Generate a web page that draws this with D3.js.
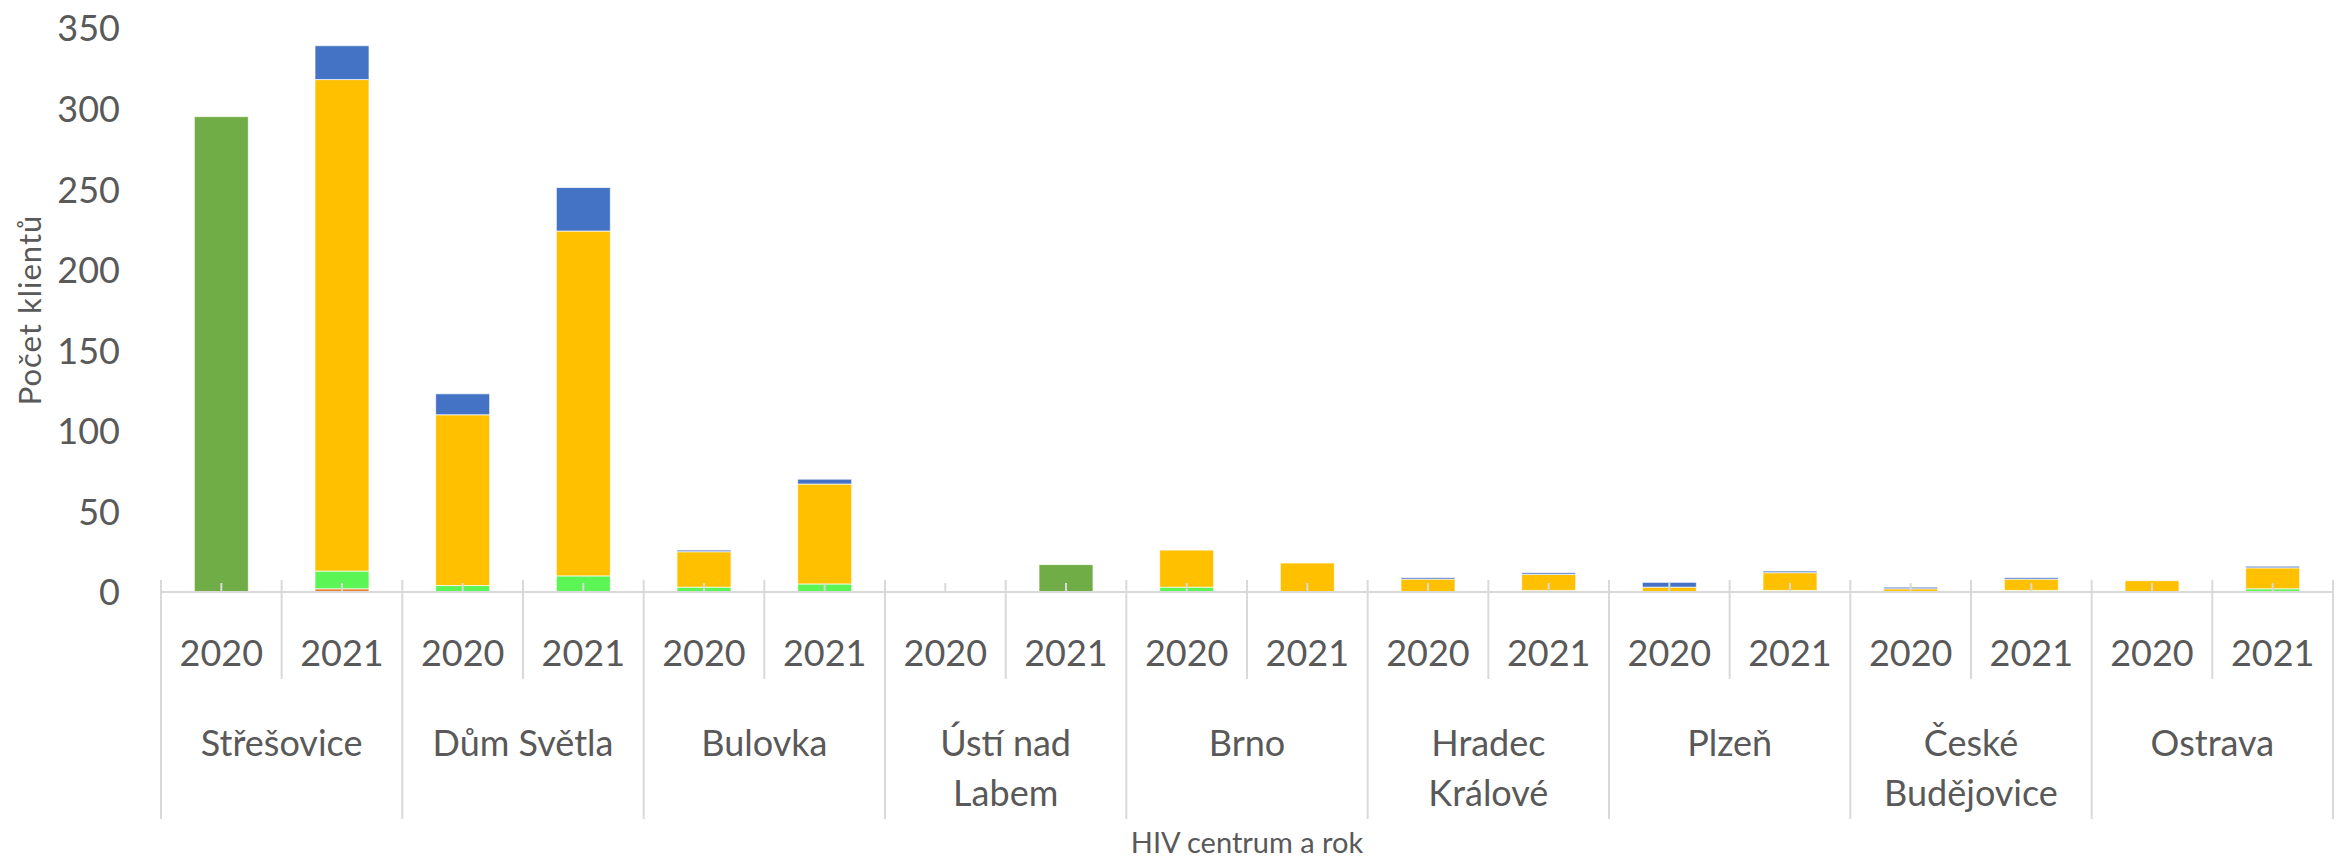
<!DOCTYPE html>
<html>
<head>
<meta charset="utf-8">
<script src="https://cdn.jsdelivr.net/npm/d3@7"></script>
<style>
  body { margin: 0; background: #fff; }
  text { font-family: Lato, "Open Sans", sans-serif; fill: #595959; }
</style>
</head>
<body>
<div id="chart"></div>
<script>
// HIV centra, počet klientů podle roku
const centers = ['Střešovice', 'Dům Světla', 'Bulovka', 'Ústí nad Labem', 'Brno',
   'Hradec Králové', 'Plzeň', 'České Budějovice', 'Ostrava'];
const years = ['2020', '2021'];
const yTicks = [0, 50, 100, 150, 200, 250, 300, 350];

// one value per center x year (2020, 2021)
const seriesDarkGreen  = [295, 0,   0, 0,    0, 0,   0, 17,  0, 0,   0, 0,   0, 0,   0, 0,   0, 0];
const seriesOrange     = [0, 2,     0, 0,    0, 0,   0, 0,   0, 0,   0, 1,   0, 0,   0, 0,   0, 0];
const seriesLightGreen = [0, 11,    4, 10,   3, 5,   0, 0,   3, 0,   0, 0,   0, 1,   0, 1,   0, 2];
const seriesYellow     = [0, 305,   106, 214, 22, 62, 0, 0,  23, 18,  8, 10,  3, 11,  2, 7,   7, 13];
const seriesBlue       = [0, 21,    13, 27,  1, 3,   0, 0,   0, 0,   1, 1,   3, 1,   1, 1,   0, 1];

const keys = ['darkGreen', 'orange', 'lightGreen', 'yellow', 'blue'];
const colors = { darkGreen: '#70AD47', orange: '#ED7D31', lightGreen: '#5CF556', yellow: '#FFC000', blue: '#4472C4' };

const W = 2336, H = 859;
const margin = { left: 161, right: 3, top: 28, bottom: 267 };
const plotW = W - margin.left - margin.right;
const plotH = H - margin.top - margin.bottom;

const rows = [];
centers.forEach((c, ci) => {
   years.forEach((yr, yi) => {
      const i = ci * 2 + yi;
      rows.push({
         id: c + '|' + yr, center: c, year: yr,
         darkGreen: seriesDarkGreen[i], orange: seriesOrange[i], lightGreen: seriesLightGreen[i],
         yellow: seriesYellow[i], blue: seriesBlue[i]
      });
   });
});

const svg = d3.select('#chart').append('svg')
   .attr('width', W)
   .attr('height', H);

const g = svg.append('g')
   .attr('transform', `translate(${margin.left}, ${margin.top})`);

const x = d3.scaleBand()
   .domain(rows.map(d => d.id))
   .range([0, plotW])
   .paddingInner(0.5525)
   .paddingOuter(0.5525 / 2);

const y = d3.scaleLinear()
   .domain([0, 350])
   .range([plotH, 0]);

const step = x.step();

// y axis
const yAxis = g.append('g')
   .call(d3.axisLeft(y).tickValues(yTicks).tickSize(0).tickPadding(41));
yAxis.select('.domain').remove();
yAxis.selectAll('text')
   .attr('font-size', '36px')
   .attr('dy', '0.36em')
   .style('font-family', 'Lato, sans-serif')
   .attr('fill', '#595959');

// bars
const stacked = d3.stack().keys(keys)(rows);

g.selectAll('g.layer')
   .data(stacked)
   .enter()
   .append('g')
      .attr('class', 'layer')
      .attr('fill', d => colors[d.key])
   .selectAll('rect')
   .data(d => d.filter(p => p[1] - p[0] > 0))
   .enter()
   .append('rect')
      .attr('x', d => x(d.data.id))
      .attr('width', x.bandwidth())
      .attr('y', d => y(d[1]))
      .attr('height', d => y(d[0]) - y(d[1]))
      .attr('stroke', '#fff')
      .attr('stroke-opacity', 0.7)
      .attr('stroke-width', 1);

// category axis (two levels)
const axisColor = '#D9D9D9';
const axisG = g.append('g');

axisG.append('line')
   .attr('x1', 0).attr('x2', plotW)
   .attr('y1', plotH).attr('y2', plotH)
   .attr('stroke', axisColor).attr('stroke-width', 2);

d3.range(rows.length + 1).forEach(i => {
   axisG.append('line')
      .attr('x1', i * step).attr('x2', i * step)
      .attr('y1', plotH - 12)
      .attr('y2', i % 2 === 0 ? plotH + 227 : plotH + 87)
      .attr('stroke', axisColor).attr('stroke-width', 2);
});

axisG.selectAll('line.tick')
   .data(rows)
   .enter()
   .append('line')
      .attr('class', 'tick')
      .attr('x1', d => x(d.id) + x.bandwidth() / 2)
      .attr('x2', d => x(d.id) + x.bandwidth() / 2)
      .attr('y1', plotH - 9).attr('y2', plotH)
      .attr('stroke', axisColor).attr('stroke-width', 2);

axisG.selectAll('text.year')
   .data(rows)
   .enter()
   .append('text')
      .attr('class', 'year')
      .attr('x', d => x(d.id) + x.bandwidth() / 2)
      .attr('y', plotH + 61)
      .attr('dy', '0.36em')
      .attr('text-anchor', 'middle')
      .attr('font-size', '36px')
      .text(d => d.year);

const splitLabel = s => {
   if (s.length <= 10) return [s];
   const k = s.lastIndexOf(' ');
   return [s.slice(0, k), s.slice(k + 1)];
};

const centerText = axisG.selectAll('text.center')
   .data(centers)
   .enter()
   .append('text')
      .attr('class', 'center')
      .attr('text-anchor', 'middle')
      .attr('font-size', '36px')
      .attr('transform', (d, i) => `translate(${(i + 1) * 2 * step - step}, ${plotH + 151})`);

centerText.selectAll('tspan')
   .data(d => splitLabel(d))
   .enter()
   .append('tspan')
      .attr('x', 0)
      .attr('y', (d, i) => i * 50)
      .attr('dy', '0.36em')
      .text(d => d);

// axis titles
svg.append('text')
   .attr('x', margin.left + plotW / 2)
   .attr('y', 843)
   .attr('dy', '0.36em')
   .attr('text-anchor', 'middle')
   .attr('font-size', '29px')
   .text('HIV centrum a rok');

svg.append('text')
   .attr('transform', `translate(30, ${margin.top + plotH / 2}) rotate(-90)`)
   .attr('dy', '0.36em')
   .attr('text-anchor', 'middle')
   .attr('font-size', '31px')
   .attr('letter-spacing', '1px')
   .text('Počet klientů');
</script>
</body>
</html>
